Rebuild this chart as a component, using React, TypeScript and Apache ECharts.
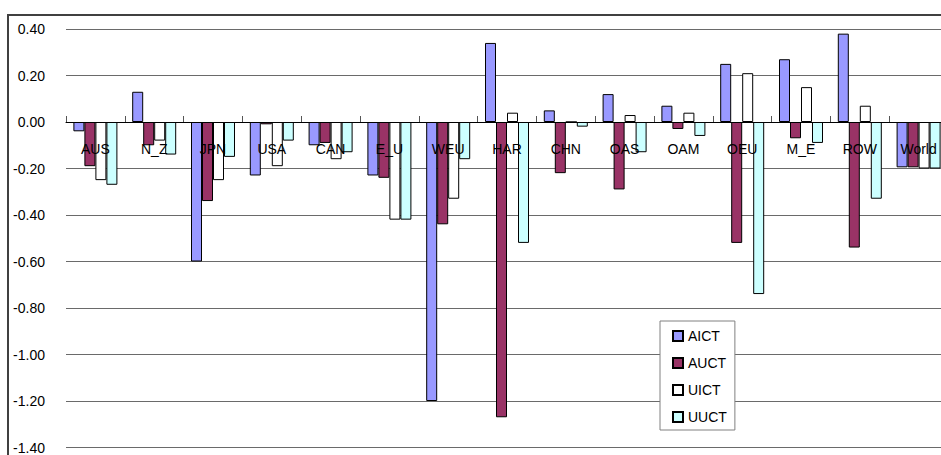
import React, { useEffect, useRef } from "react";
import * as echarts from "echarts";

const categories = ["AUS", "N_Z", "JPN", "USA", "CAN", "E_U", "WEU", "HAR", "CHN", "OAS", "OAM", "OEU", "M_E", "ROW", "World"];
const seriesNames = ["AICT", "AUCT", "UICT", "UUCT"];
const aict = [-0.04, 0.13, -0.6, -0.23, -0.1, -0.23, -1.2, 0.34, 0.05, 0.12, 0.07, 0.25, 0.27, 0.38, -0.195];
const auct = [-0.19, -0.1, -0.34, -0.01, -0.09, -0.24, -0.44, -1.27, -0.22, -0.29, -0.03, -0.52, -0.07, -0.54, -0.195];
const uict = [-0.25, -0.08, -0.25, -0.19, -0.16, -0.42, -0.33, 0.04, 0, 0.03, 0.04, 0.21, 0.15, 0.07, -0.2];
const uuct = [-0.27, -0.14, -0.15, -0.08, -0.13, -0.42, -0.16, -0.52, -0.02, -0.13, -0.06, -0.74, -0.09, -0.33, -0.2];
const colors = ["#9999FF", "#993366", "#FFFFFF", "#CCFFFF"];
const yTicks = { min: -1.4, max: 0.4, interval: 0.2 };

export default function App() {
  const ref = useRef<HTMLDivElement>(null);
  useEffect(() => {
    if (!ref.current) return;
    const chart = echarts.init(ref.current, undefined, { renderer: "svg" });
    const font = "'Liberation Sans', Arial, sans-serif";
    const data = [aict, auct, uict, uuct];
    const gridTop = 29;
    const gridBottom = 7.5;
    const plotH = 455 - gridTop - gridBottom;
    const zeroFromBottom = (0 - yTicks.min) / (yTicks.max - yTicks.min) * plotH;
    chart.setOption({
      animation: false,
      backgroundColor: "#fff",
      textStyle: { fontFamily: font },
      graphic: [
        {
          type: "rect",
          shape: { x: 8, y: 15, width: 1000, height: 1000 },
          style: { fill: "none", stroke: "#404040", lineWidth: 2 },
          z: 0,
          silent: true,
        },
      ],
      grid: { left: 66, right: -7, top: gridTop, bottom: gridBottom, containLabel: false, outerBoundsMode: "none" },
      legend: {
        orient: "vertical",
        left: 660,
        top: 321,
        itemWidth: 10,
        itemHeight: 10,
        itemGap: 13,
        padding: [8, 8, 6, 12],
        backgroundColor: "#fff",
        borderColor: "#808080",
        borderWidth: 1,
        borderRadius: 0,
        textStyle: { fontSize: 14, color: "#000", fontFamily: font },
        data: seriesNames.map((n) => ({ name: n, icon: "rect" })),
      },
      xAxis: {
        type: "category",
        data: categories,
        position: "bottom",
        offset: -zeroFromBottom,
        axisLine: { show: true, onZero: false, lineStyle: { color: "#000", width: 1 } },
        axisTick: { show: true, inside: true, length: 6, lineStyle: { color: "#555" } },
        axisLabel: { color: "#000", fontSize: 14, margin: 20, interval: 0, fontFamily: font },
        splitLine: { show: false },
        z: 5,
      },
      yAxis: {
        type: "value",
        min: yTicks.min,
        max: yTicks.max,
        interval: yTicks.interval,
        axisLine: { show: false },
        axisTick: { show: false },
        axisLabel: {
          color: "#000",
          fontSize: 14,
          margin: 21,
          fontFamily: font,
          formatter: (v: number) => (Math.abs(v) < 1e-9 ? "0.00" : v.toFixed(2)),
        },
        splitLine: { show: true, lineStyle: { color: "#6a6a6a", width: 1 } },
      },
      series: seriesNames.map((name, i) => ({
        name,
        type: "bar",
        data: data[i],
        barWidth: 11,
        barGap: "0%",
        itemStyle: { color: colors[i], borderColor: "#000", borderWidth: 1 },
      })),
    });
    return () => chart.dispose();
  }, []);
  return <div ref={ref} style={{ width: 941, height: 455, position: "absolute", left: 0, top: 0 }} />;
}
